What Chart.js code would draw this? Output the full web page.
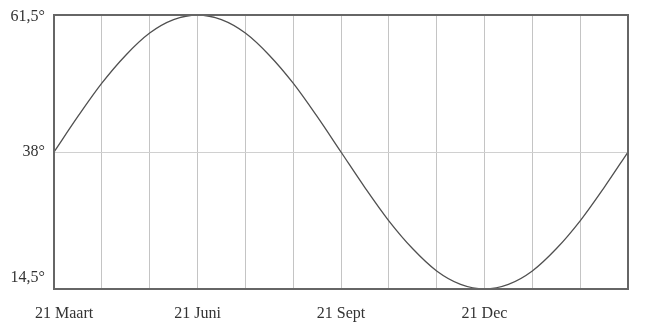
<!DOCTYPE html>
<html>
<head>
<meta charset="utf-8">
<script src="https://cdn.jsdelivr.net/npm/chart.js@4/dist/chart.umd.min.js"></script>
<style>
html,body{margin:0;padding:0;background:#fff;}
#wrap{width:645px;height:327px;position:relative;}
</style>
</head>
<body>
<div id="wrap"><canvas id="c" width="645" height="327"></canvas></div>
<script>
/* DATA: x = months after 21 March, y = sun altitude (degrees) */
const months=[0,0.5,1,1.5,2,2.5,3,3.5,4,4.5,5,5.5,6,6.5,7,7.5,8,8.5,9,9.5,10,10.5,11,11.5,12];
const altitude=[38,44.1,49.8,54.6,58.4,60.7,61.5,60.7,58.4,54.6,49.8,44.1,38,31.9,26.2,21.4,17.6,15.3,14.5,15.3,17.6,21.4,26.2,31.9,38];
const xTickPos=[0,3,6,9];
const xTickLabels=['21 Maart','21 Juni','21 Sept','21 Dec'];
const yTickVals=[14.5,38,61.5];
const yTickLabels=['14,5°','38°','61,5°'];

const FONT='16px "Liberation Serif", "DejaVu Serif", serif';

/* frame + text labels */
const labelPlugin={
  id:'labels',
  afterDraw(chart){
    const ctx=chart.ctx,a=chart.chartArea,xs=chart.scales.x,ys=chart.scales.y;
    ctx.save();
    ctx.strokeStyle='#666';ctx.lineWidth=2;
    ctx.strokeRect(a.left,a.top,a.right-a.left,a.bottom-a.top);
    ctx.font=FONT;ctx.fillStyle='#333';
    ctx.textAlign='center';ctx.textBaseline='middle';
    xTickPos.forEach((v,i)=>{
      const w=ctx.measureText(xTickLabels[i]).width;
      const x=Math.max(xs.getPixelForValue(v),35+w/2);
      ctx.fillText(xTickLabels[i],x,a.bottom+25);
    });
    ctx.textAlign='right';
    yTickVals.forEach((v,i)=>{
      let y=ys.getPixelForValue(v);
      y=Math.min(Math.max(y,a.top+2),a.bottom-11);
      ctx.fillText(yTickLabels[i],a.left-9,y);
    });
    ctx.restore();
  }
};

new Chart(document.getElementById('c'),{
  type:'line',
  data:{datasets:[{
    data:months.map((m,i)=>({x:m,y:altitude[i]})),
    borderColor:'#505050',borderWidth:1.3,pointRadius:0,
    tension:0.4,cubicInterpolationMode:'monotone',fill:false
  }]},
  options:{
    responsive:false,animation:false,
    layout:{padding:{left:54,right:17,top:15,bottom:38}},
    plugins:{legend:{display:false},tooltip:{enabled:false}},
    scales:{
      x:{type:'linear',min:0,max:12,
        ticks:{display:false,stepSize:1},
        grid:{color:'#c4c4c4',lineWidth:1,drawTicks:false},
        border:{display:false}},
      y:{type:'linear',min:14.5,max:61.5,
        afterBuildTicks(s){s.ticks=yTickVals.map(v=>({value:v}));},
        ticks:{display:false},
        grid:{color:'#d0d0d0',lineWidth:1,drawTicks:false},
        border:{display:false}}
    }
  },
  plugins:[labelPlugin]
});
</script>
</body>
</html>
